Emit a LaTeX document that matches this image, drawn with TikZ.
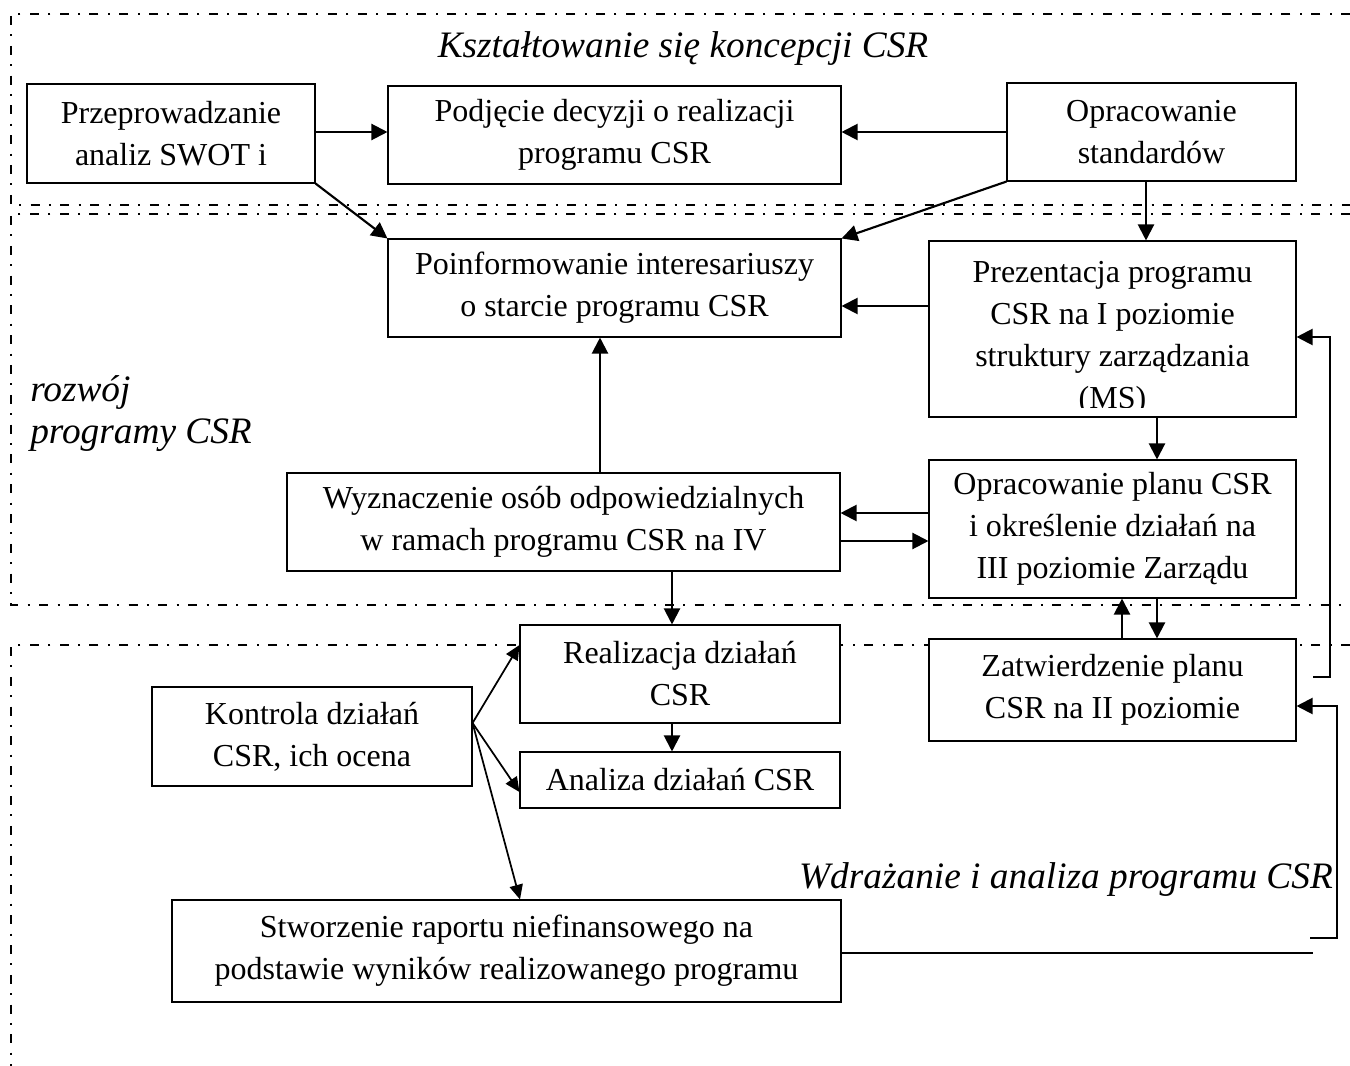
\documentclass[tikz,border=0pt]{standalone}
\usepackage{fontspec}
\setmainfont{Liberation Serif}
\usetikzlibrary{arrows.meta}
\newcommand\fs{\fontsize{24}{31.5}\selectfont}
\newcommand\fl{\fontsize{28}{31.5}\selectfont}
\begin{document}
\begin{tikzpicture}[x=0.75pt,y=-0.75pt,
 box/.style={draw,line width=0.8pt,fill=white,inner sep=0pt,align=center,font=\fs},
 arr/.style={line width=1.6pt,-{Triangle[length=12pt,width=12pt]}},
 thin arr/.style={line width=1.3pt,-{Triangle[length=11pt,width=10pt]}},
 frame/.style={line width=1.8pt,dash pattern=on 6.75pt off 7pt on 1.6pt off 7pt},
 lbl/.style={font=\fl\itshape,inner sep=0pt,align=left}]
\useasboundingbox (0,0) rectangle (1350,1066);

% region frames
\draw[frame] (1350,14) -- (11,14) -- (11,205) -- (1350,205);
\draw[frame] (1350,214) -- (11,214) -- (11,605) -- (1350,605);
\draw[frame] (1350,645) -- (11,645) -- (11,1066);

% region labels
\node[lbl] (t1) at (683,49) {Kształtowanie się koncepcji CSR};
\node[lbl,anchor=west] (t2) at (30,414) {rozwój\\programy CSR};
\node[lbl] (t3) at (1066,880) {Wdrażanie i analiza programu CSR};

% boxes
\node[box,minimum width=216pt,minimum height=74.25pt] (prz) at (171,133.5) {Przeprowadzanie\\analiz SWOT i};
\node[box,minimum width=339.75pt,minimum height=73.5pt] (pod) at (614.5,135) {Podjęcie decyzji o realizacji\\programu CSR};
\node[box,minimum width=216.75pt,minimum height=73.5pt] (ops) at (1151.5,132) {Opracowanie\\standardów};
\node[box,minimum width=339.75pt,minimum height=73.5pt] (poi) at (614.5,288) {Poinformowanie interesariuszy\\o starcie programu CSR};
\node[box,minimum width=275.25pt,minimum height=132pt] (pre) at (1112.5,329) {};
\begin{scope}
\clip (pre.north west) rectangle (1296,407);
\node[font=\fs,align=center,inner sep=0pt] (pretxt) at (1112.5,338) {Prezentacja programu\\CSR na I poziomie\\struktury zarządzania\\(MS)};
\end{scope}
\node[box,minimum width=275.25pt,minimum height=103.5pt] (opl) at (1112.5,529) {Opracowanie planu CSR\\i określenie działań na\\III poziomie Zarządu};
\node[box,minimum width=275.25pt,minimum height=76.5pt] (zat) at (1112.5,690) {Zatwierdzenie planu\\CSR na II poziomie};
\node[box,minimum width=414.75pt,minimum height=73.5pt] (wyz) at (563.5,522) {Wyznaczenie osób odpowiedzialnych\\w ramach programu CSR na IV};
\node[box,minimum width=240pt,minimum height=73.5pt] (rea) at (680,674) {Realizacja działań\\CSR};
\node[box,minimum width=240pt,minimum height=42pt] (ana) at (680,780) {Analiza działań CSR};
\node[box,minimum width=240pt,minimum height=74.25pt] (kon) at (312,736.5) {Kontrola działań\\CSR, ich ocena};
\node[box,minimum width=501.75pt,minimum height=76.5pt] (stw) at (506.5,951) {Stworzenie raportu niefinansowego na\\podstawie wyników realizowanego programu};

% connectors
\draw[arr] (prz.east |- 0,132) -- (pod.west |- 0,132);
\draw[arr] (ops.west |- 0,132) -- (pod.east |- 0,132);
\draw[arr] (prz.south east) -- (poi.north west);
\draw[arr] (ops.south west) -- (poi.north east);
\draw[arr] (1146,0 |- ops.south) -- (1146,0 |- pre.north);
\draw[arr] (pre.west |- 0,306) -- (poi.east |- 0,306);
\draw[arr] (600,0 |- wyz.north) -- (600,0 |- poi.south);
\draw[arr] (1157,0 |- pre.south) -- (1157,0 |- opl.north);
\draw[arr] (opl.west |- 0,513) -- (wyz.east |- 0,513);
\draw[arr] (wyz.east |- 0,541) -- (opl.west |- 0,541);
\draw[arr] (672,0 |- wyz.south) -- (672,0 |- rea.north);
\draw[arr] (1157,0 |- opl.south) -- (1157,0 |- zat.north);
\draw[arr] (1122,0 |- zat.north) -- (1122,0 |- opl.south);
\draw[arr] (672,0 |- rea.south) -- (672,0 |- ana.north);

\coordinate (c1) at (1313,677);
\draw[arr] (c1) -- (1330,677) -- (1330,337) -- (pre.east |- 0,337);
\coordinate (c2) at (1310,938);
\draw[arr] (c2) -- (1337,938) -- (1337,706) -- (zat.east |- 0,706);
\coordinate (c3) at (1313,953);
\draw[line width=0.8pt] (stw.east |- c3) -- (c3);

\coordinate (k0) at (kon.east |- 0,723);
\draw[thin arr] (k0) -- (rea.west |- 0,645);
\draw[thin arr] (k0) -- (ana.west |- 0,792);
\draw[thin arr] (k0) -- (520,0 |- stw.north);
\end{tikzpicture}
\end{document}
